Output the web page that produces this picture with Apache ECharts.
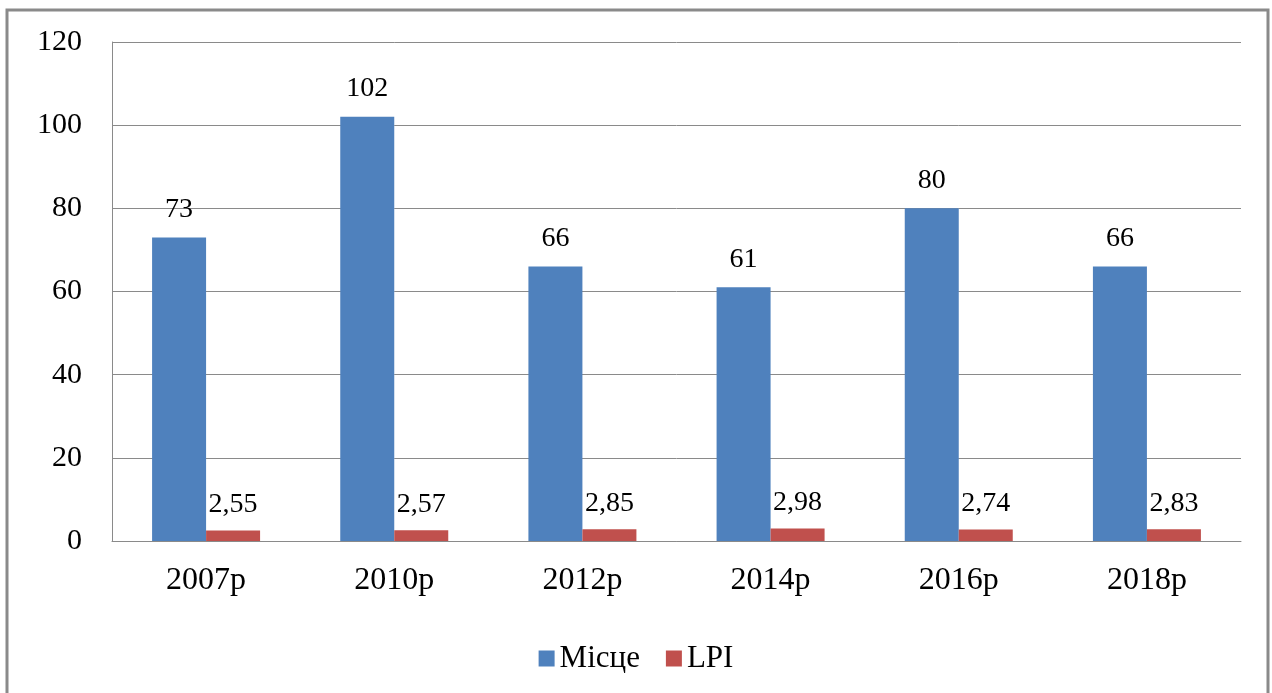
<!DOCTYPE html>
<html>
<head>
<meta charset="utf-8">
<style>
html,body{margin:0;padding:0;background:#fff;}
#c{width:1272px;height:693px;}
</style>
<script src="https://cdn.jsdelivr.net/npm/echarts@6/dist/echarts.min.js"></script>
</head>
<body>
<div id="c"></div>
<script>
const categories = ['2007р', '2010р', '2012р', '2014р', '2016р', '2018р'];
const placeValues = [73, 102, 66, 61, 80, 66];
const lpiValues = [2.55, 2.57, 2.85, 2.98, 2.74, 2.83];
const seriesNames = ['Місце', 'LPI'];

const font = '"Liberation Serif", "Times New Roman", serif';
const chart = echarts.init(document.getElementById('c'));
chart.setOption({
  animation: false,
  backgroundColor: '#fff',
  textStyle: { fontFamily: font },
  graphic: [{
    type: 'rect',
    shape: { x: 7, y: 10, width: 1261, height: 720 },
    style: { fill: 'none', stroke: '#8a8a8a', lineWidth: 3 },
    z: -1
  }],
  grid: { left: 112, right: 31, top: 42, bottom: 152, containLabel: false },
  legend: {
    bottom: 14,
    left: 'center',
    itemWidth: 16,
    itemHeight: 16,
    itemGap: 26,
    icon: 'rect',
    textStyle: { fontFamily: font, fontSize: 31, color: '#000' },
    data: seriesNames
  },
  xAxis: {
    type: 'category',
    data: categories,
    axisLine: { lineStyle: { color: '#8a8a8a', width: 1 } },
    axisTick: { show: false },
    axisLabel: { fontFamily: font, fontSize: 32, color: '#000', margin: 24 }
  },
  yAxis: {
    type: 'value',
    min: 0, max: 120, interval: 20,
    axisLine: { show: true, lineStyle: { color: '#8a8a8a', width: 1 } },
    axisTick: { show: false },
    splitLine: { lineStyle: { color: '#8a8a8a', width: 1 } },
    axisLabel: { fontFamily: font, fontSize: 30, color: '#000', margin: 30 }
  },
  series: [
    {
      name: seriesNames[0],
      type: 'bar',
      data: placeValues,
      barWidth: 54,
      barGap: '0%',
      itemStyle: { color: '#4f81bd' },
      label: { show: true, position: 'top', distance: 14, fontFamily: font, fontSize: 28, color: '#000' }
    },
    {
      name: seriesNames[1],
      type: 'bar',
      data: lpiValues,
      barWidth: 54,
      barGap: '0%',
      itemStyle: { color: '#c0504d' },
      label: {
        show: true, position: 'top', distance: 12, fontFamily: font, fontSize: 28, color: '#000',
        formatter: p => p.value.toFixed(2).replace('.', ',')
      }
    }
  ]
});
</script>
</body>
</html>
